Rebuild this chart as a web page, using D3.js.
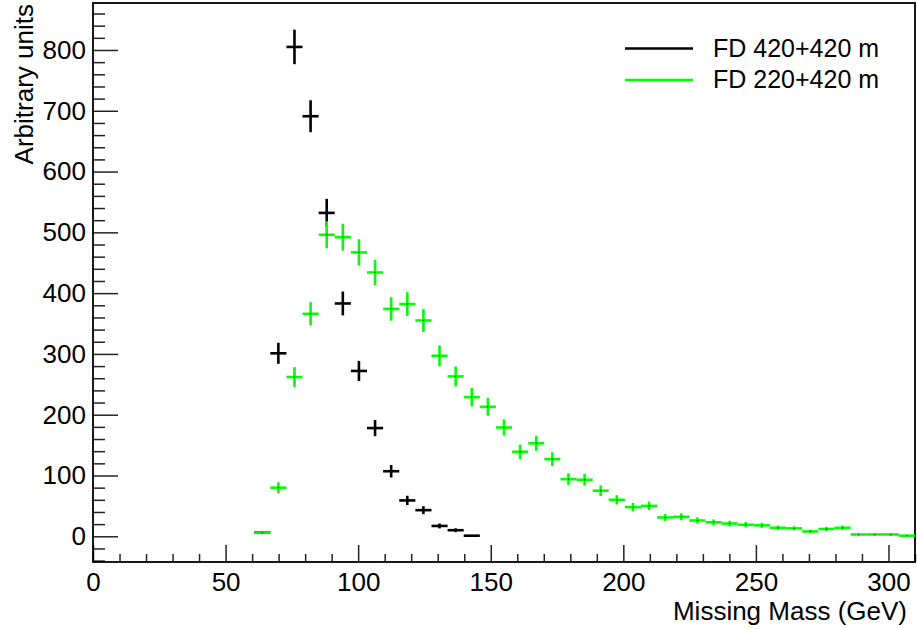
<!DOCTYPE html>
<html>
<head>
<meta charset="utf-8">
<script src="https://cdn.jsdelivr.net/npm/d3@7"></script>
<style>
    body { margin: 0; background: #fff; }
    svg { display: block; font-family: "Liberation Sans", Arial, Helvetica, sans-serif; }
</style>
</head>
<body>
<svg id="chart" width="917" height="629"></svg>
<script>
// histogram layout: 51 bins over [0, 310] GeV
const nBins = 51;
const xMin = 0;
const xMax = 310;

// FD 420+420 m, first filled bin index = 10
const blackFirstBin = 10;
const blackCounts = [6, 301, 805, 691, 532, 383, 272, 178, 107, 59, 43, 17, 10, 1];
const blackErrors = [2.4, 17.3, 28.4, 26.3, 23.1, 19.6, 16.5, 13.3, 10.3, 7.7, 6.6, 4.1, 3.2, 1];

// FD 220+420 m, first filled bin index = 10
const greenFirstBin = 10;
const greenCounts = [6, 80, 262, 366, 496, 492, 467, 434, 374, 382, 355, 297, 263, 229,
    213, 179, 139, 153, 127, 94, 93, 75, 60, 48, 50, 31, 32, 26, 23, 21, 19, 18, 14, 13,
    8, 12, 14, 3, 3, 3, 1];
const greenErrors = [2.4, 8.9, 16.2, 19.1, 22.3, 22.2, 21.6, 20.8, 19.3, 19.5, 18.8, 17.2, 16.2, 15.1,
    14.6, 13.4, 11.8, 12.4, 11.3, 9.7, 9.6, 8.7, 7.7, 6.9, 7.1, 5.6, 5.7, 5.1, 4.8, 4.6, 4.4, 4.2, 3.7, 3.6,
    2.8, 3.5, 3.7, 1.7, 1.7, 1.7, 1];

const xMajorTicks = [0, 50, 100, 150, 200, 250, 300];
const yMajorTicks = [0, 100, 200, 300, 400, 500, 600, 700, 800];
const legendLabels = ["FD 420+420 m", "FD 220+420 m"];
const xTitle = "Missing Mass (GeV)";
const yTitle = "Arbitrary units";

const frame = {left: 93, right: 915, top: 3, bottom: 562};
const yDomain = [-42.3, 877.3];

const svg = d3.select("#chart");

const x = d3.scaleLinear().domain([xMin, xMax]).range([frame.left, frame.right]);
const y = d3.scaleLinear().domain(yDomain).range([frame.bottom, frame.top]);

const binWidth = (xMax - xMin) / nBins;

// minor ticks
const xMinor = d3.range(0, xMax + 0.1, 10).filter(v => xMajorTicks.indexOf(v) < 0);
const yMinor = d3.range(-40, yDomain[1], 20).filter(v => yMajorTicks.indexOf(v) < 0);

function styleAxis(g) {
    g.select(".domain").remove();
    g.selectAll(".tick line").attr("stroke", "#222").attr("stroke-width", 1.5);
    g.selectAll(".tick text").attr("fill", "#000").style("font-size", "26px");
}

svg.append("g")
    .attr("transform", "translate(" + frame.left + ",0)")
    .call(d3.axisLeft(y).tickValues(yMinor).tickSize(-12).tickFormat(""))
    .call(styleAxis);

svg.append("g")
    .attr("transform", "translate(" + frame.left + ",0)")
    .call(d3.axisLeft(y).tickValues(yMajorTicks).tickSize(-25).tickPadding(7).tickFormat(d3.format("d")))
    .call(styleAxis);

svg.append("g")
    .attr("transform", "translate(0," + frame.bottom + ")")
    .call(d3.axisBottom(x).tickValues(xMinor).tickSize(-8).tickFormat(""))
    .call(styleAxis);

svg.append("g")
    .attr("transform", "translate(0," + frame.bottom + ")")
    .call(d3.axisBottom(x).tickValues(xMajorTicks).tickSize(-17).tickPadding(11).tickFormat(d3.format("d")))
    .call(styleAxis);

// frame box
svg.append("rect")
    .attr("x", frame.left)
    .attr("y", frame.top)
    .attr("width", frame.right - frame.left)
    .attr("height", frame.bottom - frame.top)
    .attr("fill", "none")
    .attr("stroke", "#000")
    .attr("stroke-width", 1.8);

// axis titles
svg.append("text")
    .attr("x", 907)
    .attr("y", 620)
    .attr("text-anchor", "end")
    .style("font-size", "26px")
    .text(xTitle);

svg.append("text")
    .attr("transform", "translate(33,4) rotate(-90)")
    .attr("text-anchor", "end")
    .style("font-size", "26px")
    .text(yTitle);

// error-bar crosses, one per bin
function drawHist(counts, errors, firstBin, color) {
    const pts = counts.map((c, i) => {
        const bin = firstBin + i;
        return {
            lo: xMin + bin * binWidth,
            hi: xMin + (bin + 1) * binWidth,
            mid: xMin + (bin + 0.5) * binWidth,
            val: c,
            err: errors[i]
        };
    });
    const g = svg.append("g")
        .attr("stroke", color)
        .attr("stroke-width", 2.6);

    g.selectAll("line.h").data(pts).enter().append("line")
        .attr("class", "h")
        .attr("x1", d => x(d.lo))
        .attr("x2", d => Math.min(x(d.hi), frame.right))
        .attr("y1", d => y(d.val))
        .attr("y2", d => y(d.val));

    g.selectAll("line.v").data(pts.filter(d => d.err > 1.5)).enter().append("line")
        .attr("class", "v")
        .attr("x1", d => x(d.mid))
        .attr("x2", d => x(d.mid))
        .attr("y1", d => y(d.val - d.err))
        .attr("y2", d => y(d.val + d.err));

    // tiny marker dot
    svg.append("g").selectAll("rect").data(pts).enter().append("rect")
        .attr("x", d => x(d.mid) - 0.5)
        .attr("y", d => y(d.val) - 0.5)
        .attr("width", 1)
        .attr("height", 1)
        .attr("fill", "#000");
}

drawHist(blackCounts, blackErrors, blackFirstBin, "#000");
drawHist(greenCounts, greenErrors, greenFirstBin, "#00ff00");

// legend
const legendColors = ["#000", "#00ff00"];
const legend = svg.append("g");
legendLabels.forEach((label, i) => {
    const ly = 48.5 + i * 31.5;
    legend.append("line")
        .attr("x1", 625).attr("x2", 693)
        .attr("y1", ly).attr("y2", ly)
        .attr("stroke", legendColors[i])
        .attr("stroke-width", 2.6);
    legend.append("text")
        .attr("x", 713)
        .attr("y", ly + 8)
        .style("font-size", "25px")
        .text(label);
});
</script>
</body>
</html>
